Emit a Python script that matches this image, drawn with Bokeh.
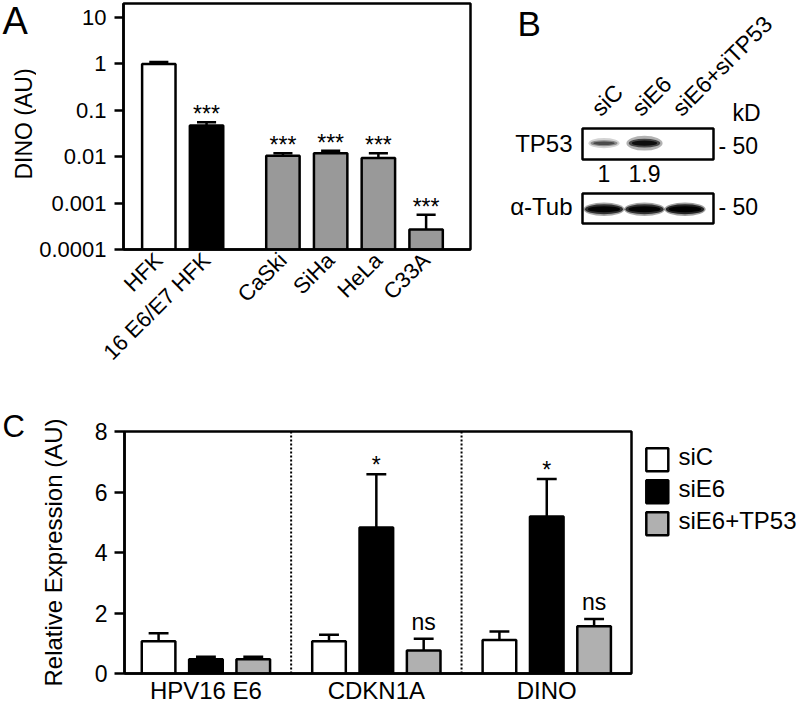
from math import pi
from bokeh.plotting import figure
from bokeh.models import (ColumnDataSource, LabelSet, Range1d, FixedTicker,
                          Span, CustomJSTickFormatter)
from bokeh.layouts import row, column
from bokeh.embed import file_html
from bokeh.resources import INLINE
from bokeh.core.properties import value

FONT = "Liberation Sans"

# ---------------- data ----------------
# Panel A : DINO levels (log scale)
a_categories = ["HFK", "16 E6/E7 HFK", "CaSki", "SiHa", "HeLa", "C33A"]
a_kind = ["normal", "transduced", "cancer", "cancer", "cancer", "cancer"]
a_mean = [1.0, 0.047, 0.0105, 0.0118, 0.0094, 0.00027]
a_sem = [0.10, 0.008, 0.0013, 0.0017, 0.0024, 0.00029]
a_sig = ["", "***", "***", "***", "***", "***"]
a_ticks = [1e-4, 1e-3, 1e-2, 1e-1, 1, 10]
a_tick_labels = ["0.0001", "0.001", "0.01", "0.1", "1", "10"]

# Panel B : western blot
b_lanes = ["siC", "siE6", "siE6+siTP53"]
b_tp53 = [1.0, 1.9, 0.0]
b_tp53_labels = ["1", "1.9", ""]
b_tub = [1.0, 1.0, 1.1]
b_rows = ["TP53", "\u03b1-Tub"]
b_kd = ["50", "50"]

# Panel C : relative expression
c_genes = ["HPV16 E6", "CDKN1A", "DINO"]
c_conditions = ["siC", "siE6", "siE6+TP53"]
c_sic_mean = [1.07, 1.07, 1.11]
c_sic_sem = [0.26, 0.21, 0.28]
c_sie6_mean = [0.47, 4.83, 5.19]
c_sie6_sem = [0.08, 1.76, 1.24]
c_tp53_mean = [0.47, 0.76, 1.56]
c_tp53_sem = [0.08, 0.39, 0.24]
c_sie6_sig = ["", "*", "*"]
c_tp53_sig = ["", "ns", "ns"]
c_ticks = [0, 2, 4, 6, 8]

# ---------------- styles ----------------
kind_color = {"normal": "white", "transduced": "black", "cancer": "#999999"}
cond_color = {"siC": "white", "siE6": "black", "siE6+TP53": "#b0b0b0"}
LW = 2.5

TOP_H = 388
BOT_H = 706 - TOP_H


def lookup_formatter(vals, labs):
    return CustomJSTickFormatter(
        args=dict(tvals=vals, tlabs=labs),
        code="""
        for (let i = 0; i < tvals.length; i++) {
            if (Math.abs(tvals[i] - tick) <= 1e-9 * Math.max(1, Math.abs(tick))) return tlabs[i];
        }
        return '';
        """)


def style_frame(p):
    p.outline_line_color = "black"
    p.outline_line_width = LW
    p.outline_line_alpha = 1.0
    p.background_fill_color = "white"
    p.border_fill_color = "white"
    p.grid.visible = False


def style_axis(ax, tick_out, label_size, standoff):
    ax.axis_line_width = LW
    ax.axis_line_color = "black"
    ax.major_tick_line_width = LW
    ax.major_tick_line_color = "black" if tick_out > 0 else None
    ax.major_tick_in = 0
    ax.major_tick_out = tick_out
    ax.minor_tick_line_color = None
    ax.major_label_text_font = FONT
    ax.major_label_text_font_size = label_size
    ax.major_label_text_color = "black"
    ax.major_label_standoff = standoff
    ax.axis_label_text_font = FONT
    ax.axis_label_text_font_size = "24px"
    ax.axis_label_text_font_style = "normal"
    ax.axis_label_text_color = "black"


def pixel_fig(w, h):
    p = figure(width=w, height=h, x_range=Range1d(0, w), y_range=Range1d(0, h),
               x_axis_location=None, y_axis_location=None, min_border=0,
               frame_align=False,
               output_backend="svg", toolbar_location=None)
    p.outline_line_color = None
    p.grid.visible = False
    p.background_fill_color = "white"
    p.border_fill_color = "white"
    return p


def txt(p, xs, ys, texts, size, align="left", angle=0.0):
    # anchor = vertical centre of the glyphs
    p.text(x=xs, y=ys, text=texts, angle=angle, text_align=align,
           text_baseline="middle", text_font=value(FONT),
           text_font_size=size, text_color="black")


# ---------------- panel A (left strip: letter + axis title) ----------------
SA_W = 36
sA = pixel_fig(SA_W, TOP_H)
txt(sA, [2], [TOP_H - 20.8], ["A"], "38px")
txt(sA, [23], [TOP_H - 123.5], ["DINO (AU)"], "23px", align="center", angle=pi / 2)

# ---------------- panel A (bar chart) ----------------
A_W = 485 - SA_W
A_FL, A_FR, A_FT, A_FB = 121, 470, 3, 249          # frame edges on the page
A_DEC = 46.4                                        # px per decade
A_YMIN = 1e-4
A_YMAX = 10 ** (-4 + (A_FB - A_FT) / A_DEC)
A_XMAX = 7.27

a_x = [0.74 + i + (0.6 if i >= 2 else 0.0) for i in range(len(a_categories))]
srcA = ColumnDataSource(dict(
    x=a_x, top=a_mean,
    err=[m + s for m, s in zip(a_mean, a_sem)],
    cl=[x - 0.2 for x in a_x], cr=[x + 0.2 for x in a_x],
    fill=[kind_color[k] for k in a_kind], sig=a_sig,
))

pA = figure(width=A_W, height=TOP_H, x_range=Range1d(0, A_XMAX),
            y_range=Range1d(A_YMIN, A_YMAX), y_axis_type="log",
            output_backend="svg", toolbar_location=None, frame_align=False,
            min_border_left=A_FL - SA_W, min_border_right=485 - A_FR,
            min_border_top=A_FT, min_border_bottom=TOP_H - A_FB)
style_frame(pA)
ya = pA.yaxis[0]
ya.ticker = FixedTicker(ticks=a_ticks)
ya.formatter = lookup_formatter(a_ticks, a_tick_labels)
style_axis(ya, 9, "22px", 8)
xa = pA.xaxis[0]
xa.ticker = FixedTicker(ticks=a_x)
xa.formatter = lookup_formatter(a_x, a_categories)
style_axis(xa, 0, "22px", 7)
xa.major_label_orientation = pi / 4

pA.vbar(x="x", top="top", bottom=A_YMIN, width=0.7, source=srcA,
        fill_color="fill", line_color="black", line_width=LW)
pA.segment(x0="x", y0="top", x1="x", y1="err", source=srcA,
           line_color="black", line_width=LW)
pA.segment(x0="cl", y0="err", x1="cr", y1="err", source=srcA,
           line_color="black", line_width=LW)
pA.add_layout(LabelSet(x="x", y="err", text="sig", source=srcA,
                       text_align="center", text_baseline="alphabetic",
                       text_font=value(FONT), text_font_size=value("23px"),
                       text_color="black"))

# ---------------- panel B (western blot schematic) ----------------
B_X0 = 485
B_W = 800 - B_X0
pB = pixel_fig(B_W, TOP_H)


def bx(rx):
    return rx - B_X0


def by(ry):
    return TOP_H - ry


BOX_L, BOX_R = 582, 713
ROW_Y = [(128, 159), (193, 223)]
LANE0, LANE_STEP = 603.5, 40.5
lane_c = [LANE0 + LANE_STEP * i for i in range(len(b_lanes))]

tp_max = max(b_tp53)
band_x, band_y, band_w, band_h, band_a = [], [], [], [], []
for i, v in enumerate(b_tp53):
    if v <= 0:
        continue
    d = 0.1 + 0.9 * v / tp_max
    w = 22 + 5 * v
    h = 3 + 3 * v
    for sw, sh, al in [(1.15, 1.7, 0.3), (1.0, 1.0, 0.6), (0.8, 0.6, 0.8)]:
        band_x.append(bx(lane_c[i])); band_y.append(by(142.7))
        band_w.append(w * sw); band_h.append(h * sh); band_a.append(min(1.0, al * d))
for i, v in enumerate(b_tub):
    w = 35 + 3 * v
    h = 9 + v
    for sw, sh, al in [(1.08, 1.35, 0.35), (1.0, 1.0, 0.7), (0.85, 0.6, 0.9)]:
        band_x.append(bx(lane_c[i])); band_y.append(by(208.7))
        band_w.append(w * sw); band_h.append(h * sh); band_a.append(min(1.0, al * v))
pB.ellipse(x=band_x, y=band_y, width=band_w, height=band_h,
           fill_color="black", fill_alpha=band_a, line_color=None)
pB.quad(left=[bx(BOX_L)] * 2, right=[bx(BOX_R)] * 2,
        top=[by(t) for t, b in ROW_Y], bottom=[by(b) for t, b in ROW_Y],
        fill_color=None, line_color="black", line_width=LW)

txt(pB, [bx(c - 8.7) for c in lane_c], [by(111.3)] * len(lane_c), b_lanes, "23px", angle=pi / 4)
txt(pB, [bx(572)] * 2, [by(142.5), by(205.5)], b_rows, "24px", align="right")
txt(pB, [bx(c) for c in lane_c], [by(173.3)] * len(lane_c), b_tp53_labels, "23px", align="center")
txt(pB, [bx(718)] * 2, [by(145.8), by(206.7)], ["- " + k for k in b_kd], "23px")
txt(pB, [bx(732)], [by(112)], ["kD"], "23px")
txt(pB, [bx(517)], [by(22.5)], ["B"], "35px")

# ---------------- panel C (left strip: letter) ----------------
SC_W = 36
sC = pixel_fig(SC_W, BOT_H)
txt(sC, [2], [BOT_H - (426 - TOP_H)], ["C"], "31px")

# ---------------- panel C (bar chart) ----------------
C_X1 = 644
C_W = C_X1 - SC_W
C_FL, C_FR, C_FT, C_FB = 120, 631, 431, 675
C_XMAX = 10.71
GROUP0, GROUP_STEP = 1.72, 3.6
c_gc = [GROUP0 + GROUP_STEP * g for g in range(len(c_genes))]

pC = figure(width=C_W, height=BOT_H, x_range=Range1d(0, C_XMAX), y_range=Range1d(0, 8),
            output_backend="svg", toolbar_location=None, frame_align=False,
            min_border_left=C_FL - SC_W, min_border_right=C_X1 - C_FR,
            min_border_top=C_FT - TOP_H, min_border_bottom=706 - C_FB)
style_frame(pC)
yc = pC.yaxis[0]
yc.ticker = FixedTicker(ticks=c_ticks)
yc.axis_label = "Relative Expression (AU)"
style_axis(yc, 10, "23px", 7)
yc.axis_label_standoff = 25
xc = pC.xaxis[0]
xc.ticker = FixedTicker(ticks=c_gc)
xc.formatter = lookup_formatter(c_gc, c_genes)
style_axis(xc, 0, "24px", 3)

for g in range(len(c_genes) - 1):
    pC.add_layout(Span(location=c_gc[g] + GROUP_STEP / 2, dimension="height",
                       line_color="black", line_width=2, line_dash="2 2"))

series = [
    ("siC", c_sic_mean, c_sic_sem, ["", "", ""]),
    ("siE6", c_sie6_mean, c_sie6_sem, c_sie6_sig),
    ("siE6+TP53", c_tp53_mean, c_tp53_sem, c_tp53_sig),
]
for k, (name, mean, sem, sig) in enumerate(series):
    xs = [gc + (k - 1) * 1.0 for gc in c_gc]
    src = ColumnDataSource(dict(
        x=xs, top=mean, err=[m + s for m, s in zip(mean, sem)],
        cl=[x - 0.21 for x in xs], cr=[x + 0.21 for x in xs], sig=sig))
    pC.vbar(x="x", top="top", bottom=0, width=0.71, source=src,
            fill_color=cond_color[name], line_color="black", line_width=LW)
    pC.segment(x0="x", y0="top", x1="x", y1="err", source=src,
               line_color="black", line_width=LW)
    pC.segment(x0="cl", y0="err", x1="cr", y1="err", source=src,
               line_color="black", line_width=LW)
    pC.add_layout(LabelSet(x="x", y="err", text="sig", source=src,
                           text_align="center", text_baseline="alphabetic",
                           y_offset=(9 if name == "siE6+TP53" else 1),
                           text_font=value(FONT), text_font_size=value("23px"),
                           text_color="black"))

# ---------------- legend (panel C) ----------------
L_W = 800 - C_X1
pL = pixel_fig(L_W, BOT_H)
ROW0, ROW_STEP = 459.3 - TOP_H, 32
leg_y = [BOT_H - (ROW0 + ROW_STEP * i) for i in range(len(c_conditions))]
pL.rect(x=[12.8] * len(c_conditions), y=leg_y, width=22, height=23,
        fill_color=[cond_color[c] for c in c_conditions],
        line_color="black", line_width=LW)
txt(pL, [34] * len(c_conditions), [y + 3.8 for y in leg_y], c_conditions, "24px")

layout = column(row(sA, pA, pB), row(sC, pC, pL))
open("out.html", "w").write(file_html(layout, INLINE))
